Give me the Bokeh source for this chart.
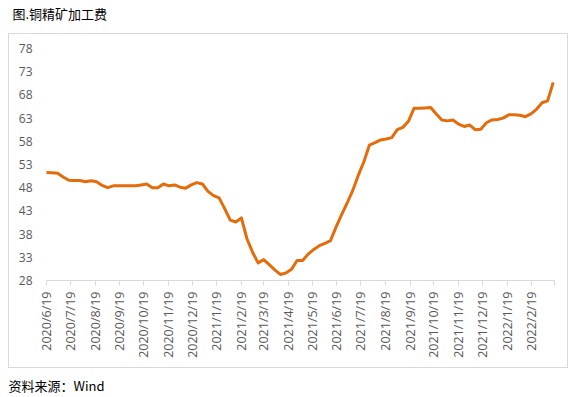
import pandas as pd
from bokeh.plotting import figure
from bokeh.models import (Range1d, FixedTicker, CustomJSTickFormatter, Label, InlineStyleSheet,
                          DatetimeAxis, LinearAxis)
from bokeh.embed import file_html
from bokeh.resources import INLINE

# ---- data ----
title_text = "图.铜精矿加工费"
source_text = "资料来源：Wind"
first_date = "2020-06-19"
n_weeks = 92
fee = [51.3, 51.2, 51.1, 50.3, 49.6, 49.55, 49.55, 49.3, 49.5, 49.3,
       48.5, 48.0, 48.4, 48.4, 48.4, 48.4, 48.4, 48.6, 48.8, 48.0,
       48.0, 48.8, 48.4, 48.6, 48.1, 47.9, 48.6, 49.1, 48.8, 47.2,
       46.3, 45.8, 43.5, 41.0, 40.6, 41.5, 37.0, 34.1, 31.8, 32.5,
       31.4, 30.3, 29.3, 29.6, 30.4, 32.3, 32.3, 33.7, 34.7, 35.5,
       36.0, 36.6, 39.5, 42.2, 44.7, 47.4, 50.7, 53.6, 57.2, 57.7,
       58.3, 58.5, 58.8, 60.5, 61.0, 62.3, 65.1, 65.1, 65.2, 65.3,
       63.9, 62.6, 62.4, 62.6, 61.7, 61.2, 61.5, 60.5, 60.6, 62.0,
       62.6, 62.7, 63.0, 63.7, 63.7, 63.6, 63.3, 63.9, 64.9, 66.3,
       66.7, 70.7]
x_tick_dates = ["2020-06-19", "2020-07-19", "2020-08-19", "2020-09-19", "2020-10-19",
                "2020-11-19", "2020-12-19", "2021-01-19", "2021-02-19", "2021-03-19",
                "2021-04-19", "2021-05-19", "2021-06-19", "2021-07-19", "2021-08-19",
                "2021-09-19", "2021-10-19", "2021-11-19", "2021-12-19", "2022-01-19",
                "2022-02-19", "2022-03-19"]
y_ticks = [28, 33, 38, 43, 48, 53, 58, 63, 68, 73, 78]

dates = pd.date_range(first_date, periods=n_weeks, freq="7D")
tick_ms = [pd.Timestamp(d).value / 1e6 for d in x_tick_dates]

# ---- layout (pixels on the 584x397 canvas) ----
W, H = 584, 397
PX_L, PX_R = 46.0, 553.5      # x pixel of first / last date tick
PX_T, PX_B = 48.0, 280.0      # y pixel of top (78) / bottom (28) value
t0, t1 = tick_ms[0], tick_ms[-1]
kx = (PX_R - PX_L) / (t1 - t0)
ky = (PX_B - PX_T) / (y_ticks[-1] - y_ticks[0])
x_range = Range1d(t0 - PX_L / kx, t1 + (W - PX_R) / kx)
y_range = Range1d(y_ticks[0] - (H - PX_B) / ky, y_ticks[-1] + PX_T / ky)

p = figure(width=W, height=H, output_backend="svg", toolbar_location=None,
           x_range=x_range, y_range=y_range,
           x_axis_location=None, y_axis_location=None,
           min_border_left=0, min_border_right=0, min_border_top=0, min_border_bottom=0)
p.outline_line_color = None
p.xgrid.visible = False
p.ygrid.visible = False
p.background_fill_color = "white"
p.border_fill_color = "white"

p.line(dates, fee, line_color="#E46C0A", line_width=3.0, line_join="round")

xa = DatetimeAxis(fixed_location=y_ticks[0], bounds=(t0, t1))
xa.ticker = FixedTicker(ticks=tick_ms)
xa.formatter = CustomJSTickFormatter(args=dict(last=t1), code="""
    if (tick >= last - 1) return "";
    const d = new Date(tick);
    return d.getUTCFullYear() + "/" + (d.getUTCMonth() + 1) + "/" + d.getUTCDate();
""")
xa.major_label_orientation = 1.5707963
xa.axis_line_color = "#D9D9D9"
xa.major_tick_line_color = "#D9D9D9"
xa.major_tick_out = 5
xa.major_tick_in = 0
xa.minor_tick_line_color = None
xa.major_label_standoff = 6
xa.major_label_text_font = "Open Sans"
xa.major_label_text_font_size = "12.5px"
xa.major_label_text_color = "#595959"
p.add_layout(xa, "below")

ya = LinearAxis(fixed_location=t0, bounds=(y_ticks[0], y_ticks[-1]))
ya.ticker = FixedTicker(ticks=y_ticks)
ya.axis_line_color = None
ya.major_tick_line_color = None
ya.minor_tick_line_color = None
ya.major_tick_out = 0
ya.major_tick_in = 0
ya.major_label_standoff = 14
ya.major_label_text_font = "Open Sans"
ya.major_label_text_font_size = "12px"
ya.major_label_text_color = "#595959"
p.add_layout(ya, "left")

# title and source (screen units: from bottom-left of the plotting area)
p.add_layout(Label(x=12, y=H - 13, x_units="screen", y_units="screen", text=title_text,
                   text_font="Noto Sans CJK SC", text_font_size="13px",
                   text_baseline="middle", text_align="left", text_color="#000000"))
p.add_layout(Label(x=8, y=H - 385, x_units="screen", y_units="screen", text=source_text,
                   text_font="Noto Sans CJK SC", text_font_size="13px",
                   text_baseline="middle", text_align="left", text_color="#000000"))

# light grey frame around the chart block
p.stylesheets = [InlineStyleSheet(css="""
:host { position: relative; }
:host::after { content: ""; position: absolute; left: 8px; top: 33px;
  width: 558px; height: 333px; border: 1px solid #D9D9D9; pointer-events: none; }
""")]

open("out.html", "w").write(file_html(p, INLINE))
